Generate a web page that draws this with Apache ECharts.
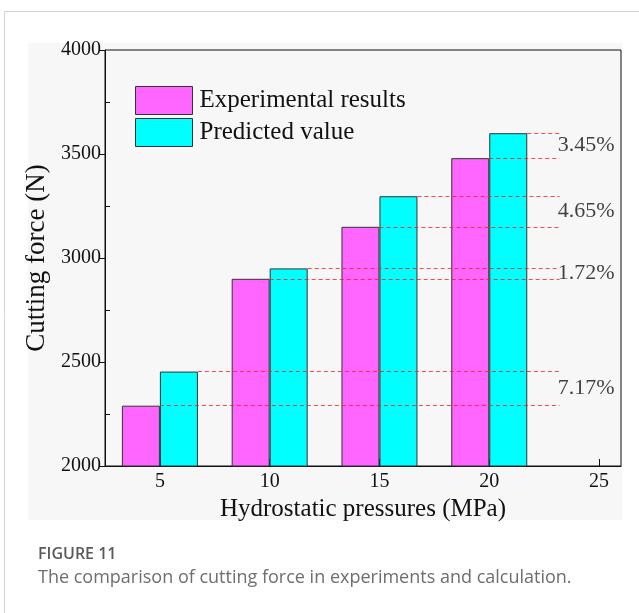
<!DOCTYPE html>
<html>
<head>
<meta charset="utf-8">
<script src="https://cdn.jsdelivr.net/npm/echarts@6/dist/echarts.min.js"></script>
<style>
  html, body { margin: 0; padding: 0; background: #ffffff; }
  #chart { width: 639px; height: 613px; }
</style>
</head>
<body>
<div id="chart"></div>
<script>
// Hydrostatic pressure (MPa) for each bar group
const pressures = [5, 10, 15, 20];
// Cutting force (N)
const experimental = [2290, 2900, 3150, 3480];
const predicted = [2454, 2950, 3297, 3600];
// Relative deviation between prediction and experiment
const deviationLabels = ['7.17%', '1.72%', '4.65%', '3.45%'];
const xTickValues = [5, 10, 15, 20, 25];

const serif = '"Liberation Serif", "Times New Roman", serif';
const barWidthPx = 38;
const barWidthUnits = 1.73;   // one bar width expressed in MPa units
const guideEnd = 23.2;        // x where the dashed guides stop
const labelX = 23.12;         // x where the deviation labels start

// dashed guides: from the top of each bar out to the deviation label
const guideLines = [];
pressures.forEach((p, i) => {
  guideLines.push([{ coord: [p, experimental[i]] }, { coord: [guideEnd, experimental[i]] }]);
  guideLines.push([{ coord: [p + barWidthUnits, predicted[i]] }, { coord: [guideEnd, predicted[i]] }]);
});

const labelPoints = pressures.map((p, i) => ({
  value: [labelX, (experimental[i] + predicted[i]) / 2],
  name: deviationLabels[i]
}));

const chart = echarts.init(document.getElementById('chart'), null, { renderer: 'canvas' });

chart.setOption({
  animation: false,
  backgroundColor: '#ffffff',
  graphic: [
    // card outline
    { type: 'line', shape: { x1: 4.5, y1: 11.5, x2: 639, y2: 11.5 }, style: { stroke: '#d4d4d4', lineWidth: 1 }, z: -10 },
    { type: 'line', shape: { x1: 4.5, y1: 11.5, x2: 4.5, y2: 613 }, style: { stroke: '#d4d4d4', lineWidth: 1 }, z: -10 },
    // figure panel
    { type: 'rect', shape: { x: 28, y: 43, width: 594, height: 477 }, style: { fill: '#f7f7f7' }, z: -9 },
    // caption
    { type: 'text', left: 38, top: 546, style: { text: 'FIGURE 11', font: '600 16px "Open Sans", "Noto Sans", sans-serif', fill: '#5a5a5a' } },
    { type: 'text', left: 38, top: 569, style: { text: 'The comparison of cutting force in experiments and calculation.', font: '18px "Open Sans", "Noto Sans", sans-serif', fill: '#6e6e6e' } }
  ],
  legend: {
    left: 135,
    top: 86,
    padding: 0,
    orient: 'vertical',
    icon: 'rect',
    itemWidth: 57,
    itemHeight: 28,
    itemGap: 3,
    itemStyle: { borderColor: '#333', borderWidth: 1 },
    textStyle: { fontFamily: serif, fontSize: 25, color: '#111', padding: [0, 0, 0, 2] },
    data: ['Experimental results', 'Predicted value']
  },
  grid: {
    left: 105, top: 50, right: 18, bottom: 147,
    show: true, borderColor: '#111', borderWidth: 1, backgroundColor: 'transparent'
  },
  xAxis: {
    type: 'value',
    min: 2.5,
    max: 26,
    name: 'Hydrostatic pressures (MPa)',
    nameLocation: 'middle',
    nameGap: 22,
    nameTextStyle: { fontFamily: serif, fontSize: 25, color: '#111' },
    axisLine: { show: true, onZero: false, lineStyle: { color: '#111', width: 1 } },
    axisTick: { show: true, inside: true, length: 7, customValues: xTickValues, lineStyle: { color: '#111' } },
    axisLabel: { show: true, customValues: xTickValues, margin: 6, fontFamily: serif, fontSize: 20, color: '#111' },
    splitLine: { show: false }
  },
  yAxis: [
    {
      type: 'value',
      min: 2000,
      max: 4000,
      interval: 500,
      name: 'Cutting force (N)',
      nameLocation: 'middle',
      nameGap: 45,
      nameTextStyle: { fontFamily: serif, fontSize: 27, color: '#111' },
      axisLine: { show: true, lineStyle: { color: '#111', width: 1 } },
      axisTick: { show: true, inside: false, length: 5, lineStyle: { color: '#111' } },
      axisLabel: { margin: 4, fontFamily: serif, fontSize: 20, color: '#111', formatter: (v) => String(v) },
      splitLine: { show: false }
    },
    {
      // inward minor ticks halfway between the labelled ticks
      type: 'value',
      position: 'left',
      min: 2000,
      max: 4000,
      interval: 500,
      axisLine: { show: false },
      axisTick: { show: false, inside: true },
      minorTick: { show: true, splitNumber: 2, length: 5, lineStyle: { color: '#111', width: 1 } },
      axisLabel: { show: false },
      splitLine: { show: false }
    }
  ],
  series: [
    {
      name: 'Experimental results',
      type: 'bar',
      barWidth: barWidthPx,
      barGap: '0%',
      data: pressures.map((p, i) => [p, experimental[i]]),
      itemStyle: { color: '#ff66ff', borderColor: '#333', borderWidth: 1 },
      z: 2
    },
    {
      name: 'Predicted value',
      type: 'bar',
      barWidth: barWidthPx,
      barGap: '0%',
      data: pressures.map((p, i) => [p, predicted[i]]),
      itemStyle: { color: '#00ffff', borderColor: '#333', borderWidth: 1 },
      z: 2
    },
    {
      name: 'guides',
      type: 'line',
      data: [],
      color: '#ff0000',
      silent: true,
      markLine: {
        silent: true,
        symbol: ['none', 'none'],
        label: { show: false },
        emphasis: { disabled: true },
        lineStyle: { color: '#ff1a1a', type: [4, 3], width: 1.1, opacity: 0.8 },
        data: guideLines
      },
      z: 5
    },
    {
      type: 'scatter',
      symbolSize: 0,
      silent: true,
      data: labelPoints,
      label: {
        show: true,
        position: 'inside',
        align: 'left',
        verticalAlign: 'middle',
        formatter: (p) => p.name,
        fontFamily: serif,
        fontSize: 22,
        color: '#111'
      }
    }
  ]
});
</script>
</body>
</html>
